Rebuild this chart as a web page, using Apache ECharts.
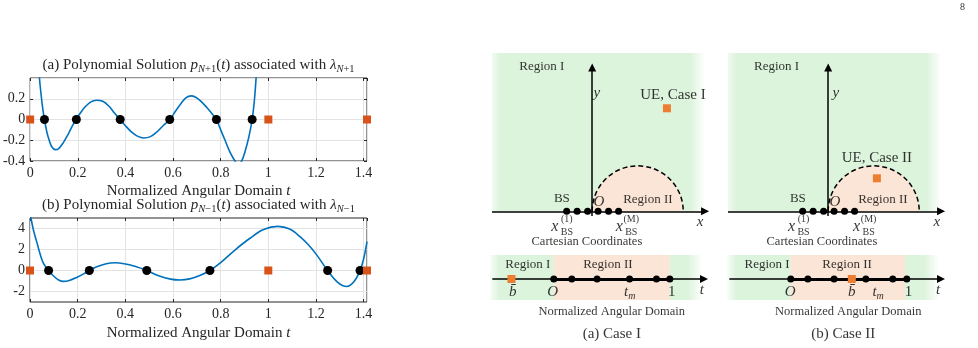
<!DOCTYPE html>
<html>
<head>
<meta charset="utf-8">
<title>Polynomial solutions and regions</title>
<script src="https://cdn.jsdelivr.net/npm/echarts@6/dist/echarts.min.js"></script>
<style>
body{margin:0;padding:0;background:#fff;}
#main{width:978px;height:348px;}
</style>
</head>
<body>
<div id="main"></div>
<script>
// ---- (a)/(b): polynomial solutions over the normalized angular domain t ----
var tEnd = 1.4142;
var pTicksB = [-2, 0, 2, 4];

// p_{N+1}(t)
var curveA = [
  [0.028, 0.80], [0.034, 0.58], [0.039, 0.40], [0.045, 0.26], [0.052, 0.12], [0.060, 0.00],
  [0.070, -0.12], [0.080, -0.20], [0.090, -0.26], [0.105, -0.29], [0.120, -0.28], [0.140, -0.22],
  [0.160, -0.14], [0.180, -0.05], [0.194, 0.00], [0.210, 0.06], [0.230, 0.12], [0.255, 0.17],
  [0.278, 0.186], [0.305, 0.175], [0.330, 0.13], [0.355, 0.06], [0.378, 0.00], [0.400, -0.06],
  [0.425, -0.12], [0.450, -0.16], [0.477, -0.178], [0.505, -0.165], [0.530, -0.125], [0.558, -0.06],
  [0.586, 0.00], [0.610, 0.08], [0.635, 0.16], [0.655, 0.21], [0.675, 0.228], [0.695, 0.215],
  [0.715, 0.18], [0.740, 0.12], [0.762, 0.06], [0.782, 0.00], [0.800, -0.10], [0.820, -0.21],
  [0.840, -0.32], [0.860, -0.40], [0.874, -0.43], [0.888, -0.40], [0.902, -0.31], [0.918, -0.17],
  [0.932, 0.00], [0.942, 0.20], [0.950, 0.45], [0.956, 0.70]
];
var rootsA = [0.060, 0.194, 0.378, 0.586, 0.782, 0.932];

// p_{N-1}(t)
var curveB = [
  [0.000, 5.6], [0.004, 5.0], [0.015, 3.8], [0.028, 2.75], [0.042, 1.6], [0.056, 0.7],
  [0.078, 0.0], [0.100, -0.55], [0.120, -0.90], [0.140, -1.04], [0.165, -0.95], [0.196, -0.66],
  [0.225, -0.32], [0.249, 0.0], [0.280, 0.35], [0.320, 0.65], [0.357, 0.74], [0.395, 0.65],
  [0.440, 0.40], [0.490, 0.0], [0.540, -0.50], [0.590, -0.82], [0.630, -0.90], [0.670, -0.80],
  [0.715, -0.45], [0.755, 0.0], [0.800, 0.75], [0.860, 1.95], [0.923, 3.07], [0.980, 3.90],
  [1.040, 4.20], [1.090, 3.95], [1.133, 3.22], [1.170, 2.40], [1.203, 1.49], [1.249, 0.0],
  [1.290, -1.10], [1.329, -1.52], [1.360, -1.05], [1.385, 0.0], [1.400, 1.10], [1.4142, 2.75]
];
var rootsB = [0.078, 0.249, 0.490, 0.755, 1.249, 1.385];
var anchorsT = [0, 1, 1.4142];

// ---- sketches: cartesian plane (semicircle diameter = 1) ----
var bsX = [-0.28, -0.165, -0.05, 0.065, 0.18, 0.29];
var regionII = [[0.5, 0, 0.5]];
var ue1 = [[0.821, 1.132]];
var ue2 = [[0.535, 0.363]];

var cartText1 = [[-0.553, 1.593, 'Region I'], [0.612, 0.132, 'Region II'], [-0.333, 0.143, 'BS']];
var cartText2 = [[-0.567, 1.593, 'Region I'], [0.601, 0.132, 'Region II'], [-0.333, 0.143, 'BS']];
var ueText1 = [[0.887, 1.275, 'UE, Case I']];
var ueText2 = [[0.535, 0.582, 'UE, Case II']];
var cartMath1 = [[0.052, 1.297, 'y'], [0.074, 0.099, 'O'], [1.184, -0.121, 'x']];
var cartMath2 = [[0.085, 1.297, 'y'], [0.074, 0.099, 'O'], [1.194, -0.121, 'x']];
var xbs1 = [[-0.41, -0.165, '(1)'], [0.298, -0.165, '(M)']];
var xbs2 = [[-0.402, -0.165, '(1)'], [0.312, -0.165, '(M)']];
var cartCap1 = [[-0.058, -0.33, 'Cartesian Coordinates']];
var cartCap2 = [[-0.069, -0.33, 'Cartesian Coordinates']];

// ---- sketches: normalized angular domain strip ----
var tDots1 = [0, 0.155, 0.373, 0.653, 0.885, 1];
var tDots2 = [0, 0.147, 0.373, 0.647, 0.879, 1];
var bBar1 = [[-0.365, 0]];
var bBar2 = [[0.526, 0]];
var stripText1 = [[-0.224, 14.3, 'Region I'], [0.466, 14.3, 'Region II']];
var stripText2 = [[-0.204, 14.3, 'Region I'], [0.485, 14.3, 'Region II']];
var stripMath1 = [[-0.353, -12.7, '{i|b\u0304}'], [-0.009, -12.7, '{i|O}'], [0.655, -12.7, '{i|t}{s|m}'], [1.017, -12.7, '1'], [1.276, -10.7, '{i|t}']];
var stripMath2 = [[-0.006, -12.7, '{i|O}'], [0.526, -12.7, '{i|b\u0304}'], [0.753, -12.7, '{i|t}{s|m}'], [1.015, -12.7, '1'], [1.27, -10.7, '{i|t}']];
var stripCap1 = [[0.5, -32.7, 'Normalized Angular Domain']];
var stripCap2 = [[0.495, -32.7, 'Normalized Angular Domain']];
var caseCap1 = [[0.5, -54.7, '(a) Case I']];
var caseCap2 = [[0.452, -54.7, '(b) Case II']];

var SERIF = '"Liberation Serif", "Times New Roman", serif';
var INK = '#262626';
var GRIDC = '#e3e3e3';
var GREEN = 'rgb(220,243,220)';
var PINK = '#fbe5d6';

var plotRich = {
  i: {fontFamily: SERIF, fontStyle: 'italic', fontSize: 15, lineHeight: 20, color: INK},
  s: {fontFamily: SERIF, fontStyle: 'italic', fontSize: 10.5, lineHeight: 10, verticalAlign: 'bottom', color: INK},
  sr: {fontFamily: SERIF, fontSize: 10.5, lineHeight: 10, verticalAlign: 'bottom', color: INK}
};
var sketchRich = {
  i: {fontFamily: SERIF, fontStyle: 'italic', fontSize: 15, lineHeight: 20, color: '#000'},
  s: {fontFamily: SERIF, fontStyle: 'italic', fontSize: 10, lineHeight: 10, verticalAlign: 'bottom', color: '#000'}
};

function fade(a) { return 'rgba(220,243,220,' + a + ')'; }
function hgrad(stops) {
  return {type: 'linear', x: 0, y: 0, x2: 1, y2: 0, colorStops: stops};
}

function tAxis(g, pos, name, gap) {
  var bottom = pos === 'bottom';
  return {
    type: 'value', gridIndex: g, position: pos, min: 0, max: tEnd, interval: 0.2,
    axisLine: {show: false, onZero: false},
    axisTick: {show: true, inside: true, length: 3, lineStyle: {color: INK}},
    axisLabel: {show: bottom, margin: 5, showMaxLabel: false, color: INK, fontFamily: SERIF, fontSize: 14},
    splitLine: {show: bottom, lineStyle: {color: GRIDC}},
    name: name, nameLocation: 'middle', nameGap: gap,
    nameTextStyle: {color: INK, fontFamily: SERIF, fontSize: 15, lineHeight: 20, rich: plotRich}
  };
}
function pAxis(g, pos, opt) {
  var left = pos === 'left';
  var ax = {
    type: 'value', gridIndex: g, position: pos, min: opt.min, max: opt.max,
    axisLine: {show: false, onZero: false},
    axisTick: {show: true, inside: true, length: 3, lineStyle: {color: INK}},
    axisLabel: {show: left, margin: 5, color: INK, fontFamily: SERIF, fontSize: 14, showMaxLabel: opt.showMax},
    splitLine: {show: left && !opt.ticks, lineStyle: {color: GRIDC}}
  };
  if (opt.interval) ax.interval = opt.interval;
  if (opt.ticks) { ax.axisTick.customValues = opt.ticks; ax.axisLabel.customValues = opt.ticks; }
  return ax;
}
function hidden(g, min, max) {
  return {type: 'value', gridIndex: g, min: min, max: max, show: false};
}

function textSeries(g, items, font, offset, fmt) {
  return {
    type: 'scatter', xAxisIndex: g, yAxisIndex: g, z: 7, silent: true, clip: false,
    symbolSize: 1, itemStyle: {color: 'rgba(0,0,0,0)'},
    data: items,
    label: {
      show: true, position: 'inside', offset: offset || [0, 0],
      formatter: fmt || function (p) { return p.data[2]; },
      color: '#000', fontFamily: SERIF, fontSize: font.size,
      fontStyle: font.italic ? 'italic' : 'normal', lineHeight: 20, rich: sketchRich
    }
  };
}

var arrowLine = {color: '#000', width: 1.5, type: 'solid'};
var solid = function (c) { return {color: c, opacity: 1}; };

function cartesianSeries(g, ue, text, ueText, math, xbs, cap) {
  return [
    {
      type: 'custom', xAxisIndex: g, yAxisIndex: g, z: 2, silent: true,
      data: regionII,
      renderItem: function (params, api) {
        var c = api.coord([api.value(0), api.value(1)]);
        var r = api.size([api.value(2), 0])[0];
        return {type: 'group', children: [
          {type: 'sector', shape: {cx: c[0], cy: c[1], r0: 0, r: r, startAngle: Math.PI, endAngle: 2 * Math.PI},
            style: {fill: PINK}},
          {type: 'arc', shape: {cx: c[0], cy: c[1], r: r, startAngle: Math.PI, endAngle: 2 * Math.PI},
            style: {fill: null, stroke: '#000', lineWidth: 1.5, lineDash: [5, 3]}}
        ]};
      }
    },
    {
      type: 'scatter', xAxisIndex: g, yAxisIndex: g, z: 6, silent: true, clip: false,
      data: bsX.map(function (x) { return [x, 0]; }),
      symbolSize: 7, itemStyle: solid('#000'),
      markArea: {silent: true, data: [[
        {coord: [-1.1, 0], itemStyle: {color: hgrad([
          {offset: 0, color: fade(0.4)}, {offset: 0.04, color: GREEN},
          {offset: 0.93, color: GREEN}, {offset: 1, color: fade(0)}])}},
        {coord: [1.24, 1.74]}
      ]]},
      markLine: {silent: true, symbol: ['none', 'triangle'], symbolSize: 8, label: {show: false},
        lineStyle: arrowLine,
        data: [
          [{coord: [-1.1, 0]}, {coord: [1.24, 0]}],
          [{coord: [0, -0.05]}, {coord: [0, 1.58]}]
        ]}
    },
    {
      type: 'scatter', xAxisIndex: g, yAxisIndex: g, z: 6, silent: true, clip: false,
      data: ue, symbol: 'rect', symbolSize: 8, itemStyle: solid('#ED7D31')
    },
    textSeries(g, text, {size: 13}),
    textSeries(g, ueText, {size: 15}),
    textSeries(g, math, {size: 15, italic: true}),
    textSeries(g, xbs, {size: 16, italic: true}, [0, 0], function () { return 'x'; }),
    textSeries(g, xbs, {size: 10}, [12, -7]),
    textSeries(g, xbs, {size: 10}, [12, 6], function () { return 'BS'; }),
    textSeries(g, cap, {size: 12.5})
  ];
}

function stripSeries(g, dots, bBar, text, math, cap, caseCap, pinkEnd) {
  return [
    {
      type: 'scatter', xAxisIndex: g, yAxisIndex: g, z: 6, silent: true, clip: false,
      data: dots.map(function (t) { return [t, 0]; }),
      symbolSize: 7, itemStyle: solid('#000'),
      markArea: {silent: true, data: [
        [{coord: [-0.55, -21], itemStyle: {color: hgrad([
          {offset: 0, color: fade(0.2)}, {offset: 0.15, color: GREEN}, {offset: 1, color: GREEN}])}},
         {coord: [0, 24]}],
        [{coord: [0, -21], itemStyle: {color: PINK}}, {coord: [pinkEnd, 24]}],
        [{coord: [pinkEnd, -21], itemStyle: {color: hgrad([
          {offset: 0, color: GREEN}, {offset: 0.55, color: GREEN}, {offset: 1, color: fade(0)}])}},
         {coord: [1.28, 24]}]
      ]},
      markLine: {silent: true, symbol: ['none', 'triangle'], symbolSize: 8, label: {show: false},
        lineStyle: arrowLine,
        data: [
          [{coord: [-0.53, 0]}, {coord: [1.295, 0]}],
          [{coord: [0, 0], symbol: 'none', lineStyle: {color: '#000', width: 3.2, type: 'solid'}},
           {coord: [1, 0], symbol: 'none'}]
        ]}
    },
    {
      type: 'scatter', xAxisIndex: g, yAxisIndex: g, z: 6, silent: true, clip: false,
      data: bBar, symbol: 'rect', symbolSize: 8, itemStyle: solid('#ED7D31')
    },
    textSeries(g, text, {size: 13}),
    textSeries(g, math, {size: 15}),
    textSeries(g, cap, {size: 12.5}),
    textSeries(g, caseCap, {size: 15})
  ];
}

var chart = echarts.init(document.getElementById('main'));
chart.setOption({
  animation: false,
  backgroundColor: '#fff',
  graphic: [{type: 'text', x: 960, y: 2, silent: true,
    style: {text: '8', fontFamily: SERIF, fontSize: 10, fill: '#333'}}],
  grid: [
    {left: 30, top: 78, width: 337, height: 83, show: true, borderColor: INK, borderWidth: 1},
    {left: 30, top: 218, width: 337, height: 84, show: true, borderColor: INK, borderWidth: 1},
    {left: 492, top: 52, width: 214, height: 214},
    {left: 728, top: 52, width: 214, height: 214},
    {left: 490, top: 255, width: 214.6, height: 90},
    {left: 727, top: 255, width: 214.6, height: 90}
  ],
  xAxis: [
    tAxis(0, 'bottom', 'Normalized Angular Domain {i|t}', 19),
    tAxis(1, 'bottom', 'Normalized Angular Domain {i|t}', 21),
    hidden(2, -1.1, 1.25), hidden(3, -1.1, 1.25),
    hidden(4, -0.55, 1.3), hidden(5, -0.55, 1.3),
    tAxis(0, 'top', '(a) Polynomial Solution {i|p}{s|N}{sr|+1}({i|t}) associated with {i|\u03bb}{s|N}{sr|+1}', 3),
    tAxis(1, 'top', '(b) Polynomial Solution {i|p}{s|N}{sr|\u22121}({i|t}) associated with {i|\u03bb}{s|N}{sr|\u22121}', 3)
  ],
  yAxis: [
    pAxis(0, 'left', {min: -0.4, max: 0.4, interval: 0.2, showMax: false}),
    pAxis(1, 'left', {min: -3, max: 5, ticks: pTicksB}),
    hidden(2, -0.6, 1.75), hidden(3, -0.6, 1.75),
    hidden(4, -66, 24), hidden(5, -66, 24),
    pAxis(0, 'right', {min: -0.4, max: 0.4, interval: 0.2}),
    pAxis(1, 'right', {min: -3, max: 5, ticks: pTicksB})
  ],
  series: [
    {type: 'line', xAxisIndex: 0, yAxisIndex: 0, data: curveA, smooth: 0.35, symbol: 'none',
      lineStyle: {color: '#0072BD', width: 1.6}, z: 2, silent: true},
    {type: 'scatter', xAxisIndex: 0, yAxisIndex: 0, data: rootsA.map(function (t) { return [t, 0]; }),
      symbolSize: 9, itemStyle: solid('#000'), z: 3, clip: false, silent: true},
    {type: 'scatter', xAxisIndex: 0, yAxisIndex: 0, data: anchorsT.map(function (t) { return [t, 0]; }),
      symbol: 'rect', symbolSize: 8, itemStyle: solid('#D95319'), z: 3, clip: false, silent: true},
    {type: 'line', xAxisIndex: 1, yAxisIndex: 1, data: curveB, smooth: 0.35, symbol: 'none',
      lineStyle: {color: '#0072BD', width: 1.6}, z: 2, silent: true,
      // horizontal grid lines at the custom y ticks
      markLine: {silent: true, z: 1, symbol: 'none', label: {show: false},
        lineStyle: {color: GRIDC, width: 1, type: 'solid'},
        data: pTicksB.map(function (v) { return {yAxis: v}; })}},
    {type: 'scatter', xAxisIndex: 1, yAxisIndex: 1, data: rootsB.map(function (t) { return [t, 0]; }),
      symbolSize: 9, itemStyle: solid('#000'), z: 3, clip: false, silent: true},
    {type: 'scatter', xAxisIndex: 1, yAxisIndex: 1, data: anchorsT.map(function (t) { return [t, 0]; }),
      symbol: 'rect', symbolSize: 8, itemStyle: solid('#D95319'), z: 3, clip: false, silent: true}
  ].concat(
    cartesianSeries(2, ue1, cartText1, ueText1, cartMath1, xbs1, cartCap1),
    cartesianSeries(3, ue2, cartText2, ueText2, cartMath2, xbs2, cartCap2),
    stripSeries(4, tDots1, bBar1, stripText1, stripMath1, stripCap1, caseCap1, 1),
    stripSeries(5, tDots2, bBar2, stripText2, stripMath2, stripCap2, caseCap2, 0.985)
  )
});
</script>
</body>
</html>
